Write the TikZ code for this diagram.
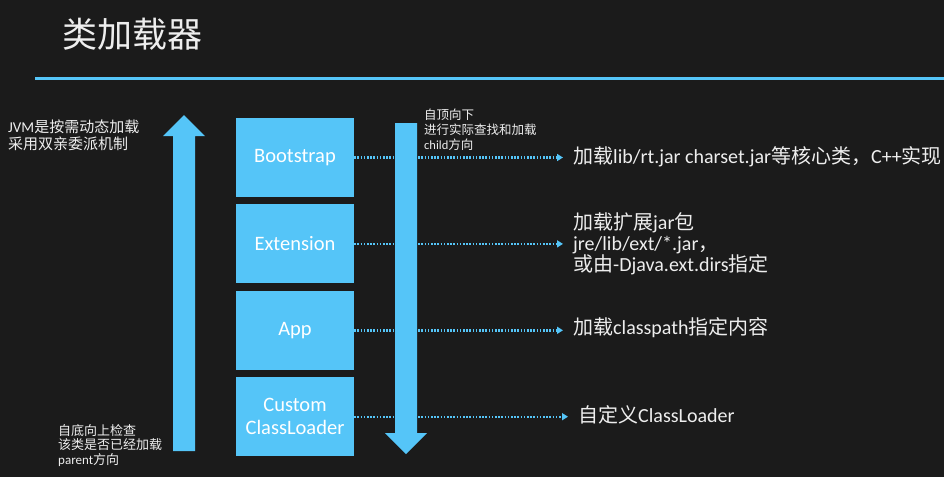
\documentclass[tikz,border=0pt]{standalone}
\usepackage{fontspec}
\setmainfont{Carlito}
\newfontfamily\cjk{Noto Sans CJK SC}
\newcommand{\zh}[1]{{\cjk #1}}
\usetikzlibrary{positioning, arrows.meta}

\begin{document}
\begin{tikzpicture}[x=1pt, y=-1pt]
    % Define colours
    \definecolor{boardColour}{HTML}{1B1B1B}
    \definecolor{loaderColour}{HTML}{55C5F8}
    \definecolor{chalkColour}{HTML}{EEEEEE}

    % Define styles
    \tikzset{
        loader/.style={fill=loaderColour, minimum width=118pt, minimum height=79pt, inner sep=0pt,
            text=white, font=\fontsize{20.5}{23}\selectfont, align=center},
        note/.style={text=chalkColour, inner sep=0pt, align=left, anchor=west},
        link/.style={draw=loaderColour, line width=2.4pt, dash pattern=on 1.6pt off 1.6pt,
            -{Triangle[length=6pt,width=7pt]}, shorten >=10pt}
    }

    % Draw board
    \fill[boardColour] (0,0) rectangle (944,477);
    \useasboundingbox (0,0) rectangle (944,477);

    % Title and rule
    \node[note, font=\cjk\fontsize{35}{40}\selectfont] (title) at (62,34) {类加载器};
    \draw[loaderColour, line width=3pt] (35,78) -- (944,78);

    % Draw the loaders
    \node[loader] (boot) at (295,157.5) {Bootstrap};
    \node[loader, below=7pt of boot] (ext) {Extension};
    \node[loader, below=7pt of ext] (app) {App};
    \node[loader, below=7pt of app] (custom) {Custom\\ClassLoader};

    % Label what each loader loads
    \node[note, font=\fontsize{20}{21}\selectfont] (bootTxt) at (573,157)
        {\zh{加载}lib/rt.jar charset.jar\zh{等核心类，}C++\zh{实现}};
    \node[note, font=\fontsize{20}{21}\selectfont] (extTxt) at (573,244)
        {\zh{加载扩展}jar\zh{包}\\jre/lib/ext/*.jar\zh{，}\\\zh{或由}-Djava.ext.dirs\zh{指定}};
    \node[note, font=\fontsize{20}{21}\selectfont] (appTxt) at (573,328)
        {\zh{加载}classpath\zh{指定内容}};
    \node[note, font=\fontsize{20}{21}\selectfont] (customTxt) at (578,415)
        {\zh{自定义}ClassLoader};

    % Dotted links from loaders to labels
    \foreach \src/\dst in {boot/bootTxt, ext/extTxt, app/appTxt, custom/customTxt}
        \draw[link] (\src.east) -- (\src.east -| \dst.west);

    % Upward arrow: parent direction
    \fill[loaderColour] (173,451) -- (173,136) -- (163,136) -- (184,115)
        -- (205,136) -- (195,136) -- (195,451) -- cycle;

    % Downward arrow: child direction
    \fill[loaderColour] (395,123) -- (395,433) -- (385,433) -- (406,454)
        -- (427,433) -- (417,433) -- (417,123) -- cycle;

    % Side notes
    \node[note, anchor=north west, font=\fontsize{15}{17}\selectfont] (jvmNote) at (8,120)
        {JVM\zh{是按需动态加载}\\\zh{采用双亲委派机制}};
    \node[note, anchor=north west, font=\fontsize{13}{14.5}\selectfont] (upNote) at (58,424)
        {\zh{自底向上检查}\\\zh{该类是否已经加载}\\parent\zh{方向}};
    \node[note, anchor=north west, font=\fontsize{12.5}{15}\selectfont] (downNote) at (424,109)
        {\zh{自顶向下}\\\zh{进行实际查找和加载}\\child\zh{方向}};

\end{tikzpicture}
\end{document}
